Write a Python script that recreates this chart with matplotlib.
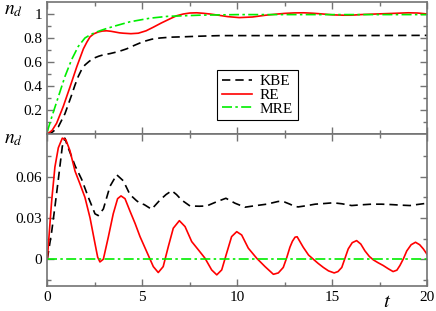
import matplotlib
matplotlib.use("Agg")
import matplotlib.pyplot as plt
from matplotlib.ticker import FixedLocator, FixedFormatter

# ---- data ----
# top panel
t_kbe_top = [0, 0.1, 0.3, 0.58, 0.93, 1.1, 1.28, 1.45, 1.63, 1.8, 1.98, 2.2, 2.42, 2.7,
             2.95, 3.3, 3.56, 3.9, 4.18, 4.6, 5.05, 5.5, 5.93, 6.5, 7.16, 8, 9.1, 12,
             15, 18, 20]
kbe_top = [0, 0, 0.02, 0.06, 0.17, 0.245, 0.325, 0.405, 0.48, 0.535, 0.575, 0.605, 0.63,
           0.648, 0.66, 0.67, 0.68, 0.695, 0.71, 0.74, 0.77, 0.79, 0.80, 0.807, 0.81,
           0.815, 0.82, 0.82, 0.82, 0.821, 0.822]

t_re_top = [0, 0.25, 0.49, 0.84, 1.19, 1.55, 1.9, 2.08, 2.25, 2.45, 2.68, 2.9, 3.12, 3.35,
            3.56, 3.8, 4.0, 4.4, 4.79, 5.2, 5.58, 6.0, 6.46, 6.8, 7.16, 7.5, 7.86, 8.2,
            8.56, 9.0, 9.5, 10.1, 10.8, 11.5, 12.0, 12.5, 13.0, 13.5, 14.0, 14.5, 15.0,
            15.6, 16.0, 16.5, 17.3, 18.2, 19.0, 19.5, 20]
re_top = [0, 0.03, 0.09, 0.23, 0.39, 0.56, 0.71, 0.765, 0.81, 0.835, 0.85, 0.858, 0.86,
          0.856, 0.85, 0.843, 0.84, 0.836, 0.84, 0.86, 0.89, 0.925, 0.96, 0.985, 1.0,
          1.008, 1.01, 1.006, 1.0, 0.99, 0.978, 0.97, 0.975, 0.99, 0.998, 1.005, 1.009,
          1.01, 1.006, 1.0, 0.993, 0.99, 0.99, 0.995, 1.0, 1.005, 1.01, 1.008, 1.0]

t_mre_top = [0, 0.23, 0.58, 0.93, 1.28, 1.63, 1.98, 2.25, 2.51, 2.8, 3.04, 3.56, 4.35,
             5.4, 6.3, 8, 10, 12, 14, 16, 18, 20]
mre_top = [0.02, 0.14, 0.31, 0.48, 0.62, 0.73, 0.80, 0.826, 0.845, 0.862, 0.875, 0.90,
           0.935, 0.965, 0.98, 0.99, 0.995, 0.995, 0.995, 0.995, 0.995, 0.995]

# bottom panel
t_kbe_bot = [0, 0.23, 0.4, 0.58, 0.79, 0.92, 1.1, 1.46, 1.81, 2.16, 2.51, 2.68, 2.95,
             3.3, 3.65, 4.0, 4.35, 4.7, 4.88, 5.1, 5.49, 5.93, 6.25, 6.55, 6.8, 7.07,
             7.51, 8.0, 8.39, 8.92, 9.4, 9.88, 10.4, 11.0, 11.55, 12.16, 12.5, 12.77,
             13.0, 13.2, 13.6, 14.1, 14.6, 15.05, 15.5, 16.02, 16.5, 17.07, 17.6, 18.12,
             18.6, 19.09, 19.5, 20]
kbe_bot = [0, 0.02, 0.038, 0.058, 0.082, 0.088, 0.081, 0.068, 0.058, 0.045, 0.033,
           0.0317, 0.0365, 0.053, 0.0614, 0.057, 0.047, 0.0425, 0.0407, 0.0397, 0.0363,
           0.043, 0.047, 0.0498, 0.047, 0.043, 0.0387, 0.0385, 0.0387, 0.0418, 0.0443,
           0.0407, 0.0378, 0.039, 0.040, 0.042, 0.0415, 0.040, 0.0385, 0.038, 0.0388,
           0.040, 0.0405, 0.041, 0.0403, 0.039, 0.0395, 0.040, 0.040, 0.0397, 0.0393,
           0.039, 0.0398, 0.0407]

t_re_bot = [0, 0.23, 0.4, 0.58, 0.79, 0.97, 1.19, 1.46, 1.72, 1.98, 2.25, 2.48, 2.65,
            2.77, 2.95, 3.21, 3.47, 3.7, 3.88, 4.09, 4.35, 4.62, 4.88, 5.23, 5.58, 5.84,
            6.1, 6.37, 6.63, 6.95, 7.25, 7.6, 7.95, 8.3, 8.65, 8.92, 9.18, 9.44, 9.7,
            9.97, 10.23, 10.58, 11.02, 11.46, 11.9, 12.16, 12.42, 12.6, 12.77, 12.9,
            13.04, 13.15, 13.47, 13.75, 14.0, 14.25, 14.53, 14.8, 15.1, 15.3, 15.5,
            15.84, 16.05, 16.28, 16.5, 16.72, 16.95, 17.16, 17.4, 17.68, 17.95, 18.2,
            18.4, 18.56, 18.75, 18.92, 19.15, 19.38, 19.6, 19.79, 20]
re_bot = [0, 0.0425, 0.067, 0.081, 0.088, 0.087, 0.079, 0.064, 0.0547, 0.045, 0.030,
          0.0135, 0.0015, -0.002, 0, 0.016, 0.033, 0.044, 0.046, 0.044, 0.035, 0.026,
          0.0164, 0.0055, -0.0054, -0.0097, -0.0054, 0.0092, 0.0225, 0.028, 0.0237,
          0.0128, 0.0068, 0.0007, -0.0078, -0.0114, -0.0078, 0.0044, 0.0164, 0.020,
          0.0176, 0.008, 0.0007, -0.0054, -0.011, -0.010, -0.006, 0.001, 0.0087, 0.013,
          0.016, 0.0163, 0.0087, 0.003, 0.0, -0.003, -0.006, -0.0085, -0.010, -0.009,
          -0.006, 0.0075, 0.012, 0.0135, 0.011, 0.006, 0.002, -0.0005, -0.0025, -0.0046,
          -0.007, -0.009, -0.008, -0.0046, 0.0005, 0.006, 0.0105, 0.0123, 0.0105,
          0.0075, 0.0033]

t_mre_bot = [0, 20]
mre_bot = [0, 0]

x_ticks = [0, 5, 10, 15, 20]
x_labels = ["0", "5", "10", "15", "20"]
top_yticks = [0, 0.2, 0.4, 0.6, 0.8, 1.0]
top_ylabels = ["", "0.2", "0.4", "0.6", "0.8", "1"]
bot_yticks = [0, 0.03, 0.06]
bot_ylabels = ["0", "0.03", "0.06"]

plt.rcParams["font.family"] = "serif"
plt.rcParams["font.serif"] = ["Liberation Serif", "DejaVu Serif"]
plt.rcParams["mathtext.fontset"] = "stix"

fig = plt.figure(figsize=(4.36, 3.11), dpi=100)
ax1 = fig.add_axes([0.1085, 0.569, 0.8715, 0.4246])
ax2 = fig.add_axes([0.1085, 0.0804, 0.8715, 0.4886])

spine_col = "0.45"
dash = (0, (5, 3))
dashdot = (0, (6, 2, 1.5, 2))
green = "#00ee00"

for ax in (ax1, ax2):
    for s in ax.spines.values():
        s.set_color(spine_col)
        s.set_linewidth(1.2)
    ax.tick_params(which="both", direction="in", top=True, right=True,
                   color=spine_col, labelsize=11, width=1)
    ax.tick_params(which="major", length=5)
    ax.tick_params(which="minor", length=3)
    ax.set_xlim(0, 20)
    ax.xaxis.set_major_locator(FixedLocator(x_ticks))
    ax.xaxis.set_minor_locator(FixedLocator([2.5, 7.5, 12.5, 17.5]))

# top panel
ax1.plot(t_kbe_top, kbe_top, color="black", ls=dash, lw=1.2, label="KBE")
ax1.plot(t_re_top, re_top, color="red", lw=1.2, label="RE")
ax1.plot(t_mre_top, mre_top, color=green, ls=dashdot, lw=1.2, label="MRE")
ax1.set_ylim(0, 1.1)
ax1.yaxis.set_major_locator(FixedLocator(top_yticks))
ax1.yaxis.set_major_formatter(FixedFormatter(top_ylabels))
ax1.yaxis.set_minor_locator(FixedLocator([0.1, 0.3, 0.5, 0.7, 0.9]))
ax1.tick_params(labelbottom=False)

leg = ax1.legend(loc="upper left", bbox_to_anchor=(0.447, 0.485), borderaxespad=0,
                 fontsize=11, fancybox=False, framealpha=1, edgecolor="black",
                 handlelength=2.0, handletextpad=0.5, labelspacing=0.0,
                 borderpad=0.3)
leg.get_frame().set_linewidth(0.8)

# bottom panel
ax2.plot(t_kbe_bot, kbe_bot, color="black", ls=dash, lw=1.2)
ax2.plot(t_re_bot, re_bot, color="red", lw=1.2)
ax2.plot(t_mre_bot, mre_bot, color=green, ls=dashdot, lw=1.2)
ax2.set_ylim(-0.0195, 0.091)
ax2.yaxis.set_major_locator(FixedLocator(bot_yticks))
ax2.yaxis.set_major_formatter(FixedFormatter(bot_ylabels))
ax2.yaxis.set_minor_locator(FixedLocator([-0.015, 0.015, 0.045, 0.075]))
ax2.xaxis.set_major_formatter(FixedFormatter(x_labels))

fig.text(0.009, 0.955, r"$n_d$", fontsize=14, va="baseline", ha="left")
fig.text(0.009, 0.540, r"$n_d$", fontsize=14, va="baseline", ha="left")
fig.text(0.878, 0.012, r"$t$", fontsize=15, va="baseline", ha="left")

fig.savefig("out.png", dpi=100)
